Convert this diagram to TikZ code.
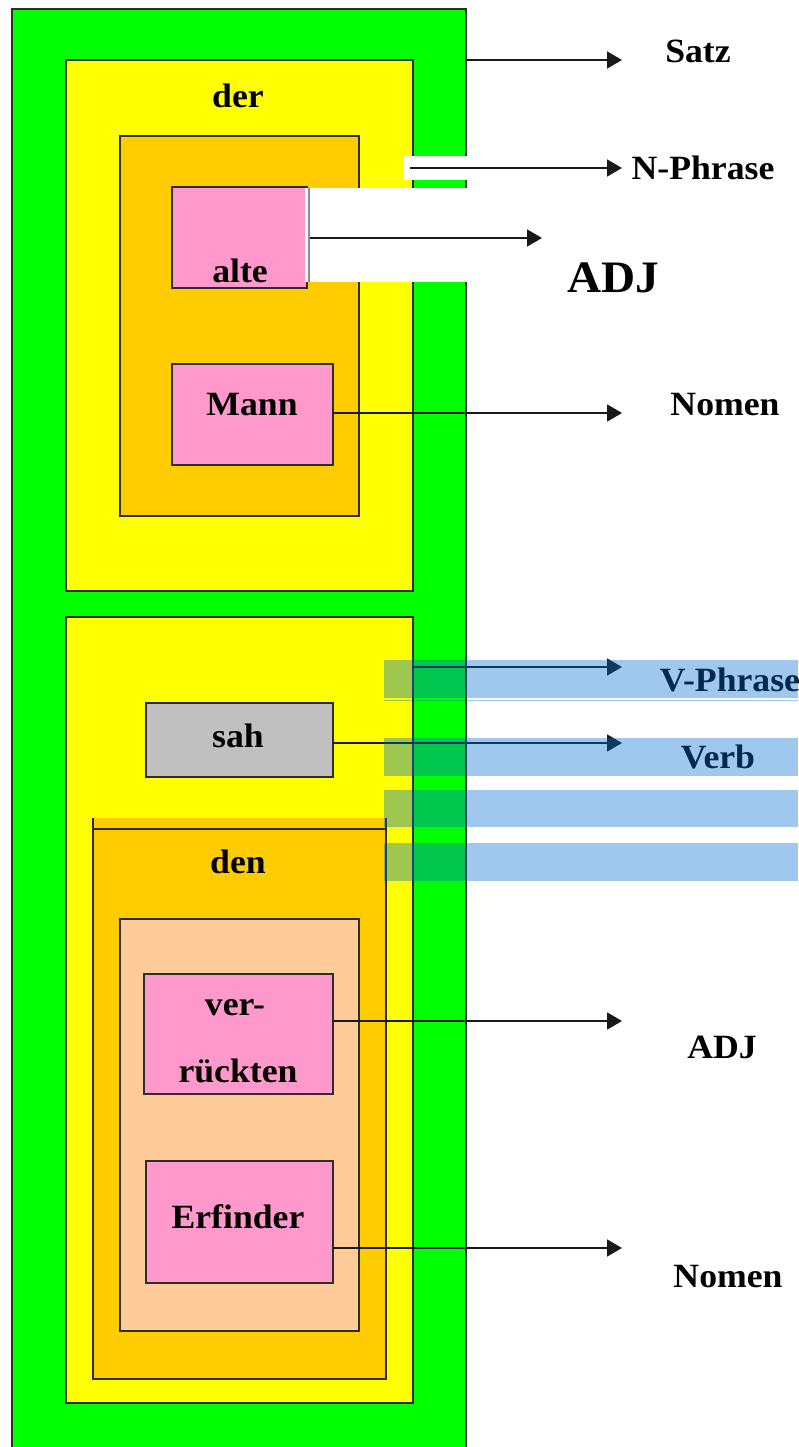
\documentclass[tikz,border=0pt]{standalone}
\usepackage{fontspec}
\setmainfont{Liberation Serif}[FakeStretch=1.05]
\usetikzlibrary{arrows.meta}
\definecolor{cgreen}{RGB}{0,255,0}
\definecolor{cyellow}{RGB}{255,255,0}
\definecolor{corange}{RGB}{255,204,0}
\definecolor{cpink}{RGB}{255,153,204}
\definecolor{cgrey}{RGB}{192,192,192}
\definecolor{cpeach}{RGB}{255,204,153}
\definecolor{cline}{RGB}{45,45,45}
\definecolor{cband}{RGB}{5,110,210}
\tikzset{
  box/.style={draw=cline, line width=1.4pt, inner sep=0pt, outer sep=0pt, anchor=north west},
  lbl/.style={font=\fontsize{34}{40}\selectfont\bfseries, anchor=base, inner sep=0pt},
  biglbl/.style={font=\fontsize{45}{50}\selectfont\bfseries, anchor=base, inner sep=0pt},
  conn/.style={draw=black!90, line width=1.7pt, -{Triangle[length=15pt,width=17pt]}},
  band/.style={fill=cband, opacity=0.38},
}
\begin{document}
\begin{tikzpicture}[x=1pt,y=-1pt]
\useasboundingbox (0,0) rectangle (798,1447);
% outer green (Satz)
\node[box, fill=cgreen, minimum width=454pt, minimum height=1445pt] (satzbox) at (12,9) {};
% upper yellow (N-Phrase)
\node[box, fill=cyellow, minimum width=347pt, minimum height=531pt] (npbox) at (66,60) {};
\node[box, fill=corange, minimum width=239pt, minimum height=380pt] (npinner) at (120,136) {};
\node[box, fill=cpink, minimum width=135pt, minimum height=101pt] (alte) at (172,187) {};
\node[box, fill=cpink, minimum width=161pt, minimum height=101pt] (mann) at (172,364) {};
% lower yellow (V-Phrase)
\node[box, fill=cyellow, minimum width=347pt, minimum height=786pt] (vpbox) at (66,617) {};
\node[box, fill=cgrey, minimum width=187pt, minimum height=74pt] (sah) at (146,703) {};
% lower orange
\fill[corange] (93,818) rectangle (386,1379);
\draw[cline, line width=1.4pt] (93,818) -- (93,1379) -- (386,1379) -- (386,818);
\draw[cline, line width=1.4pt] (93,829) -- (386,829);
\node[box, fill=cpeach, minimum width=239pt, minimum height=412pt] (peach) at (120,919) {};
\node[box, fill=cpink, minimum width=189pt, minimum height=120pt] (ver) at (144,974) {};
\draw[cline, line width=2.6pt] (144,1094) -- (333,1094);
\node[box, fill=cpink, minimum width=187pt, minimum height=122pt] (erf) at (146,1161) {};
% white patches
\fill[white] (305,188) rectangle (470,282);
\draw[black!45, line width=2pt] (308.5,188) -- (308.5,282);
\fill[white] (404,156) rectangle (470,180);
% word labels
\node[lbl] (der) at (238,108) {der};
\node[lbl] (altetxt) at (240,282) {alte};
\node[lbl] (manntxt) at (252,415) {Mann};
\node[lbl] (sahtxt) at (238,747) {sah};
\node[lbl] (den) at (238,873) {den};
\node[lbl] (vertxt) at (235,1015) {ver-};
\node[lbl] (rueck) at (238,1082) {rückten};
\node[lbl] (erftxt) at (238,1228) {Erfinder};
% category labels
\node[lbl] (satz) at (698,63) {Satz};
\node[lbl] (nphr) at (703,180) {N-Phrase};
\node[biglbl] (adj1) at (613,292) {ADJ};
\node[lbl] (nomen1) at (725,415) {Nomen};
\node[lbl] (vphr) at (730,691) {V-Phrase};
\node[lbl] (verb) at (718,768) {Verb};
\node[lbl] (adj2) at (722,1058) {ADJ};
\node[lbl] (nomen2) at (728,1287) {Nomen};
% connector ends
\coordinate (tsatz) at (622,60);
\coordinate (npstart) at (410,168);
\coordinate (tnp) at (622,168);
\coordinate (tadj1) at (542,238);
\coordinate (tnomen1) at (622,413);
\coordinate (vpstart) at (412,667);
\coordinate (tvp) at (622,667);
\coordinate (tverb) at (622,743);
\coordinate (tadj2) at (622,1021);
\coordinate (tnomen2) at (622,1248);
% connectors
\draw[conn] (satzbox.east |- tsatz) -- (tsatz);
\draw[conn] (npstart) -- (tnp);
\draw[conn] (310,238) -- (tadj1);
\draw[conn] (mann.east |- tnomen1) -- (tnomen1);
\draw[conn] (vpstart) -- (tvp);
\draw[conn] (sah.east |- tverb) -- (tverb);
\draw[conn] (ver.east |- tadj2) -- (tadj2);
\draw[conn] (erf.east |- tnomen2) -- (tnomen2);
% translucent blue bands
\fill[band] (384,660) rectangle (798,698);
\fill[band] (384,699.5) rectangle (798,701);
\fill[band] (384,738) rectangle (798,776);
\fill[band] (384,790) rectangle (798,827);
\fill[band] (384,843) rectangle (798,881);
\end{tikzpicture}
\end{document}
